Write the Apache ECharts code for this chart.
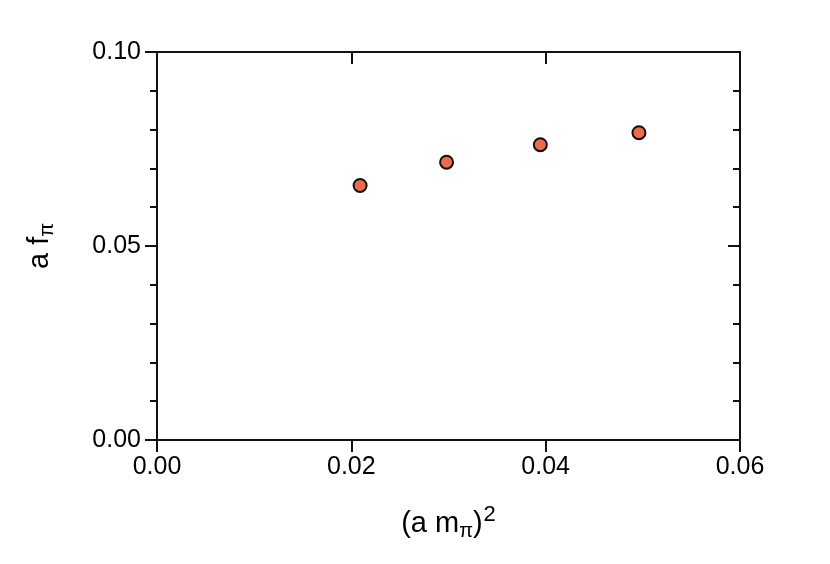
<!DOCTYPE html>
<html lang="en" style="height: 100%">
   <head>
      <meta charset="utf-8">
   </head>
   <body style="height: 100%; margin: 0">
      <div id="container" style="width: 830px; height: 564px"></div>
      <script type="text/javascript" src="https://fastly.jsdelivr.net/npm/echarts@6/dist/echarts.min.js"></script>
      <script type="text/javascript">
var mpiSq = [0.0209, 0.0298, 0.03945, 0.0496];
var fpi = [0.0656, 0.0716, 0.0761, 0.0792];

var points = mpiSq.map(function (x, i) { return [x, fpi[i]]; });

var font = 'Liberation Sans';
var lineCol = '#111';

var myChart = echarts.init(document.getElementById('container'), null, { renderer: 'canvas' });

var option = {
  animation: false,
  backgroundColor: '#fff',
  textStyle: { fontFamily: font },
  grid: { left: 157, right: 90, top: 52, bottom: 124 },
  xAxis: [{
      type: 'value',
      position: 'bottom',
      min: 0, max: 0.06, interval: 0.02,
      name: '{t|(a m}{s|π}{t|)}{p|2}',
      nameLocation: 'middle',
      nameGap: 64,
      nameTextStyle: {
        rich: {
          t: { fontSize: 29, fontFamily: font, color: '#000' },
          s: { fontSize: 20, fontFamily: font, color: '#000', padding: [15, 0, 0, 0] },
          p: { fontSize: 22, fontFamily: font, color: '#000', padding: [0, 0, 17, 1] }
        }
      },
      axisLine: { show: true, onZero: false, lineStyle: { color: lineCol, width: 2 } },
      axisTick: { show: true, inside: false, length: 12, lineStyle: { color: lineCol, width: 2 } },
      axisLabel: { fontSize: 25, color: '#000', margin: 15, formatter: function (v) { return v.toFixed(2); } },
      splitLine: { show: false }
    },
    {
      type: 'value',
      position: 'top',
      min: 0, max: 0.06, interval: 0.02,
      axisLine: { show: true, onZero: false, lineStyle: { color: lineCol, width: 2 } },
      axisTick: { show: true, inside: true, length: 12, lineStyle: { color: lineCol, width: 2 } },
      axisLabel: { show: false },
      splitLine: { show: false }
    }
  ],
  yAxis: [{
      type: 'value',
      position: 'left',
      min: 0, max: 0.1, interval: 0.05,
      name: '{t|a f}{s|π}',
      nameLocation: 'middle',
      nameGap: 100,
      nameRotate: 90,
      nameTextStyle: {
        rich: {
          t: { fontSize: 29, fontFamily: font, color: '#000' },
          s: { fontSize: 20, fontFamily: font, color: '#000', padding: [15, 0, 0, 0] }
        }
      },
      axisLine: { show: true, onZero: false, lineStyle: { color: lineCol, width: 2 } },
      axisTick: { show: true, inside: false, length: 12, lineStyle: { color: lineCol, width: 2 } },
      minorTick: { show: true, splitNumber: 5, length: 7, lineStyle: { color: lineCol, width: 2 } },
      axisLabel: { fontSize: 25, color: '#000', margin: 16, formatter: function (v) { return v.toFixed(2); } },
      splitLine: { show: false },
      minorSplitLine: { show: false }
    },
    {
      type: 'value',
      position: 'right',
      min: 0, max: 0.1, interval: 0.05,
      axisLine: { show: true, onZero: false, lineStyle: { color: lineCol, width: 2 } },
      axisTick: { show: true, inside: true, length: 12, lineStyle: { color: lineCol, width: 2 } },
      minorTick: { show: true, splitNumber: 5, length: 7, lineStyle: { color: lineCol, width: 2 } },
      axisLabel: { show: false },
      splitLine: { show: false },
      minorSplitLine: { show: false }
    }
  ],
  series: [{
    type: 'scatter',
    data: points,
    symbol: 'circle',
    symbolSize: 13,
    itemStyle: { color: '#ee6a4c', borderColor: '#111', borderWidth: 2, opacity: 1 }
  }]
};

myChart.setOption(option);
window.addEventListener('resize', myChart.resize);
      </script>
   </body>
</html>
